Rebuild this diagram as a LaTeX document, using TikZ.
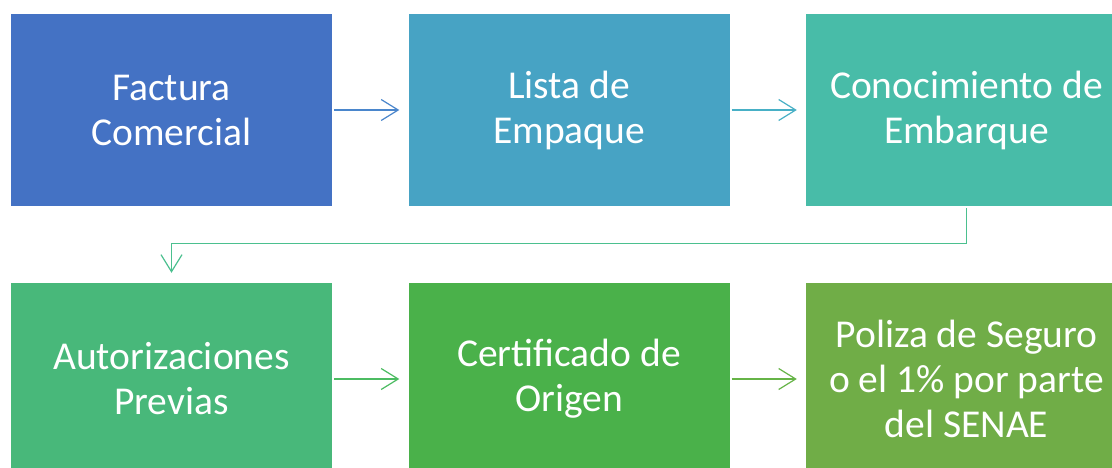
\documentclass[tikz,border=0pt]{standalone}
\usepackage{fontspec}
\setmainfont{Carlito}
\usetikzlibrary{arrows.meta}
\definecolor{cA}{HTML}{4472C4}
\definecolor{cB}{HTML}{47A3C4}
\definecolor{cC}{HTML}{48BCA8}
\definecolor{cD}{HTML}{48B87A}
\definecolor{cE}{HTML}{4AB14A}
\definecolor{cF}{HTML}{70AD47}
\definecolor{aA}{HTML}{4A86CC}
\definecolor{aB}{HTML}{48B0C6}
\definecolor{aC}{HTML}{4BC08F}
\definecolor{aD}{HTML}{4CBC62}
\definecolor{aE}{HTML}{66B447}
\tikzset{
  stepbox/.style={rectangle, minimum width=321pt, minimum height=192pt, inner sep=0pt,
    text=white, align=center, font=\fontsize{39.5}{45}\selectfont},
  flowarrow/.style={line width=1.2pt, -{Straight Barb[length=17pt,width=21pt,line width=1.2pt]}},
}
\begin{document}
\begin{tikzpicture}[x=1pt,y=-1pt]
\clip (0,0) rectangle (1112,468);
\fill[white] (0,0) rectangle (1112,468);
\node[stepbox, fill=cA] (a) at (171.5,110) {Factura\\Comercial};
\node[stepbox, fill=cB] (b) at (569,110) {Lista de\\Empaque};
\node[stepbox, fill=cC] (c) at (966.5,110) {Conocimiento de\\Embarque};
\node[stepbox, fill=cD] (d) at (171.5,379) {Autorizaciones\\Previas};
\node[stepbox, fill=cE] (e) at (569,379) {Certificado de\\Origen};
\node[stepbox, fill=cF] (f) at (966.5,379) {Poliza de Seguro\\o el 1\% por parte\\del SENAE};
\draw[flowarrow, draw=aA, shorten <=2pt, shorten >=9pt] (a.east) -- (b.west);
\draw[flowarrow, draw=aB, shorten <=2pt, shorten >=9pt] (b.east) -- (c.west);
\draw[flowarrow, draw=aC, shorten <=2pt, shorten >=10pt] (c.south) -- ++(0,37) -| (d.north);
\draw[flowarrow, draw=aD, shorten <=2pt, shorten >=9pt] (d.east) -- (e.west);
\draw[flowarrow, draw=aE, shorten <=2pt, shorten >=9pt] (e.east) -- (f.west);
\end{tikzpicture}
\end{document}
